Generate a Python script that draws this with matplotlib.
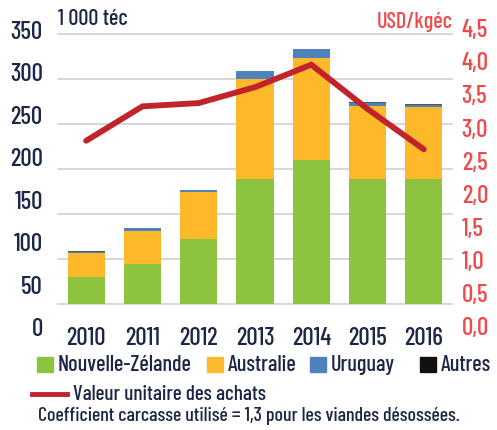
import matplotlib
matplotlib.use("Agg")
import matplotlib.pyplot as plt
from matplotlib import font_manager
from matplotlib.patches import Rectangle
from matplotlib.lines import Line2D
import numpy as np

years = ["2010", "2011", "2012", "2013", "2014", "2015", "2016"]
nz = [29, 44, 72, 138, 159, 138, 138]
au = [27, 37, 52, 111, 114, 82, 80]
uy = [1.5, 2.5, 2, 9.5, 10, 3, 2.5]
autres = [0.3, 0.3, 0.3, 0.3, 0.3, 1, 1.5]
valeur = [2.80, 3.32, 3.37, 3.61, 3.95, 3.28, 2.67]

left_ticks = [0, 50, 100, 150, 200, 250, 300, 350]
right_ticks = [0, 0.5, 1, 1.5, 2, 2.5, 3, 3.5, 4, 4.5]

# pick a condensed face, the original uses a narrow Futura-like font
names = {f.name for f in font_manager.fontManager.ttflist}
k = 0.8
for fam, kk in [("Barlow Condensed", 1.0), ("Archivo Narrow", 0.92), ("Liberation Sans Narrow", 0.9)]:
    if fam in names:
        plt.rcParams['font.family'] = [fam, 'DejaVu Sans']
        k = kk
        break
else:
    plt.rcParams['font.family'] = ['DejaVu Sans']
plt.rcParams['font.weight'] = 'medium'

green = "#8CC43F"
yellow = "#FDB92A"
blue = "#4F81BD"
black = "#111111"
red = "#C2232B"
navy = "#1C2747"
salmon = "#F0494B"

W, H = 497, 430
fig = plt.figure(figsize=(W / 100, H / 100), dpi=100)

def fx(px):
    return px / W

def fy(py):
    return 1 - py / H

x = np.arange(len(years))
x0, x1 = 58, 452

# bars
ax = fig.add_axes([fx(x0), fy(303.5), fx(x1) - fx(x0), fy(33.5) - fy(303.5)])
ax.set_xlim(-0.5, 6.5)
ax.set_ylim(0, 300)
for v in range(0, 301, 50):
    ax.axhline(v, color="#CFCFCF", lw=1.2, zorder=0, clip_on=False)
bw = 0.66
b1 = np.array(nz)
b2 = b1 + np.array(au)
b3 = b2 + np.array(uy)
ax.bar(x, nz, bw, color=green, zorder=2)
ax.bar(x, au, bw, bottom=b1, color=yellow, zorder=2)
ax.bar(x, uy, bw, bottom=b2, color=blue, zorder=2)
ax.bar(x, autres, bw, bottom=b3, color="#555555", zorder=2)
for s in ax.spines.values():
    s.set_visible(False)
ax.set_yticks([])
ax.set_xticks(x)
ax.set_xticklabels(years, fontsize=18 * k, color=navy)
ax.tick_params(axis="x", length=0, pad=17)

# left labels
axl = fig.add_axes([fx(x0), fy(327), fx(x1) - fx(x0), fy(30) - fy(327)], frameon=False)
axl.set_ylim(0, 350)
axl.set_xticks([])
axl.set_yticks(left_ticks)
axl.set_yticklabels([str(t) for t in left_ticks], fontsize=18 * k, color=navy)
axl.tick_params(axis="y", length=0, pad=11)
axl.patch.set_alpha(0)

# right axis with line
axr = fig.add_axes([fx(x0), fy(326), fx(x1) - fx(x0), fy(28.3) - fy(326)], frameon=False)
axr.patch.set_alpha(0)
axr.set_xlim(-0.5, 6.5)
axr.set_ylim(0, 4.5)
axr.plot(x, valeur, color=red, lw=4.2, solid_capstyle="round", solid_joinstyle="miter", zorder=5)
axr.set_xticks([])
axr.yaxis.tick_right()
axr.set_yticks(right_ticks)
axr.set_yticklabels([f"{t:.1f}".replace(".", ",") for t in right_ticks], fontsize=18 * k, color=salmon)
axr.tick_params(axis="y", length=0, pad=7)

fig.text(fx(58), fy(19), "1 000 téc", fontsize=16 * k, color=navy, va="center", ha="left")
fig.text(fx(453), fy(22), "USD/kgéc", fontsize=16 * k, color=salmon, va="center", ha="right")

# legend
leg = [("Nouvelle-Zélande", green, 37), ("Australie", yellow, 207),
       ("Uruguay", blue, 310), ("Autres", black, 420)]
for name, col, px in leg:
    fig.patches.append(Rectangle((fx(px), fy(372)), fx(16), 15 / H, color=col,
                                 transform=fig.transFigure, figure=fig))
    fig.text(fx(px + 21), fy(365), name, fontsize=16 * k, color=navy, va="center", ha="left")
fig.lines.append(Line2D([fx(32), fx(67)], [fy(394), fy(394)], color=red, lw=3.5,
                        transform=fig.transFigure, figure=fig))
fig.text(fx(73), fy(394), "Valeur unitaire des achats", fontsize=15.2 * k, color=navy, va="center", ha="left")
fig.text(fx(38), fy(416), "Coefficient carcasse utilisé = 1,3 pour les viandes désossées.",
         fontsize=14.3 * k, color=navy, va="center", ha="left")

fig.savefig("out.png", dpi=100)
